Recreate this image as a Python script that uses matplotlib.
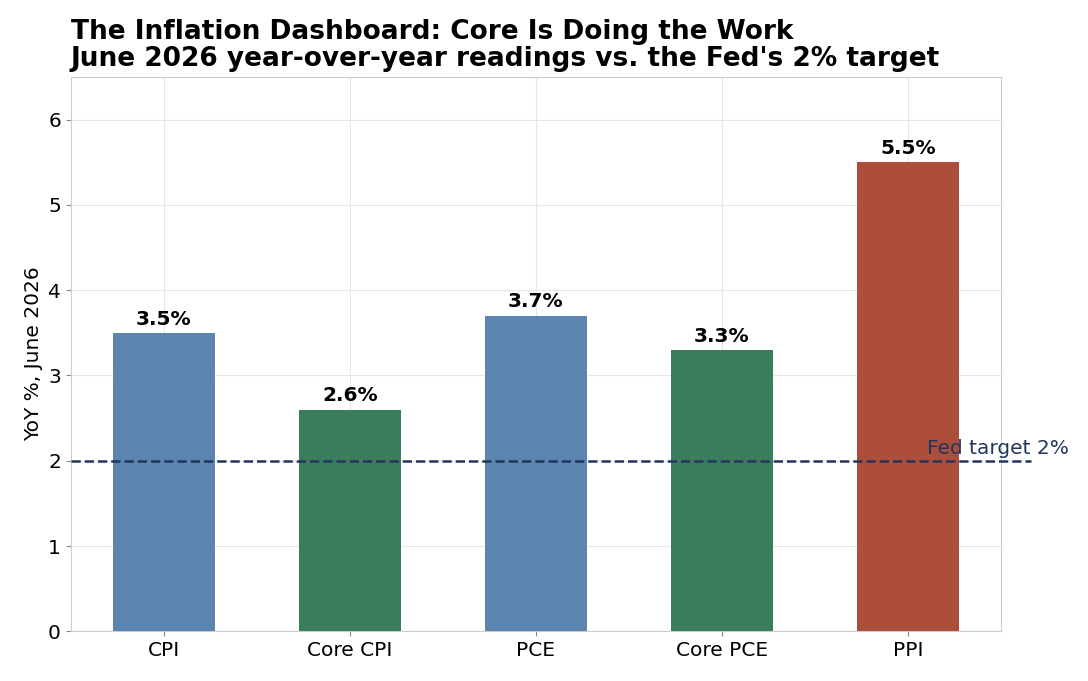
import matplotlib.pyplot as plt

categories = ["CPI", "Core CPI", "PCE", "Core PCE", "PPI"]
values = [3.5, 2.6, 3.7, 3.3, 5.5]
colors = ["#5b84b1", "#3a7d5c", "#5b84b1", "#3a7d5c", "#ad4e3c"]
target = 2.0

fig = plt.figure(figsize=(10.88, 6.81), dpi=100)
ax = fig.add_axes([0.065, 0.073, 0.855, 0.814])

x = range(len(categories))
ax.bar(x, values, width=0.55, color=colors, zorder=3)
for xi, v in zip(x, values):
    ax.text(xi, v + 0.05, f"{v}%", ha="center", va="bottom", fontsize=14.5, fontweight="bold")

ax.plot([-0.5, 4.66], [target, target], ls="--", color="#23365a", lw=1.8, clip_on=False, zorder=4)
ax.text(4.1, target + 0.03, "Fed target 2%", color="#23365a", fontsize=14.5, va="bottom", ha="left")

ax.set_xlim(-0.5, 4.5)
ax.set_ylim(0, 6.5)
ax.set_xticks(list(x))
ax.set_xticklabels(categories)
ax.tick_params(labelsize=14.5, color="#888888")
ax.set_ylabel("YoY %, June 2026", fontsize=14.5)
ax.grid(True, color="#e6e6e6", lw=0.8, zorder=0)
for s in ax.spines.values():
    s.set_color("#cccccc")
ax.set_title("The Inflation Dashboard: Core Is Doing the Work\n"
             "June 2026 year-over-year readings vs. the Fed's 2% target",
             loc="left", fontsize=19, fontweight="bold", linespacing=1.05, pad=8)

fig.savefig("out.png", dpi=100)
